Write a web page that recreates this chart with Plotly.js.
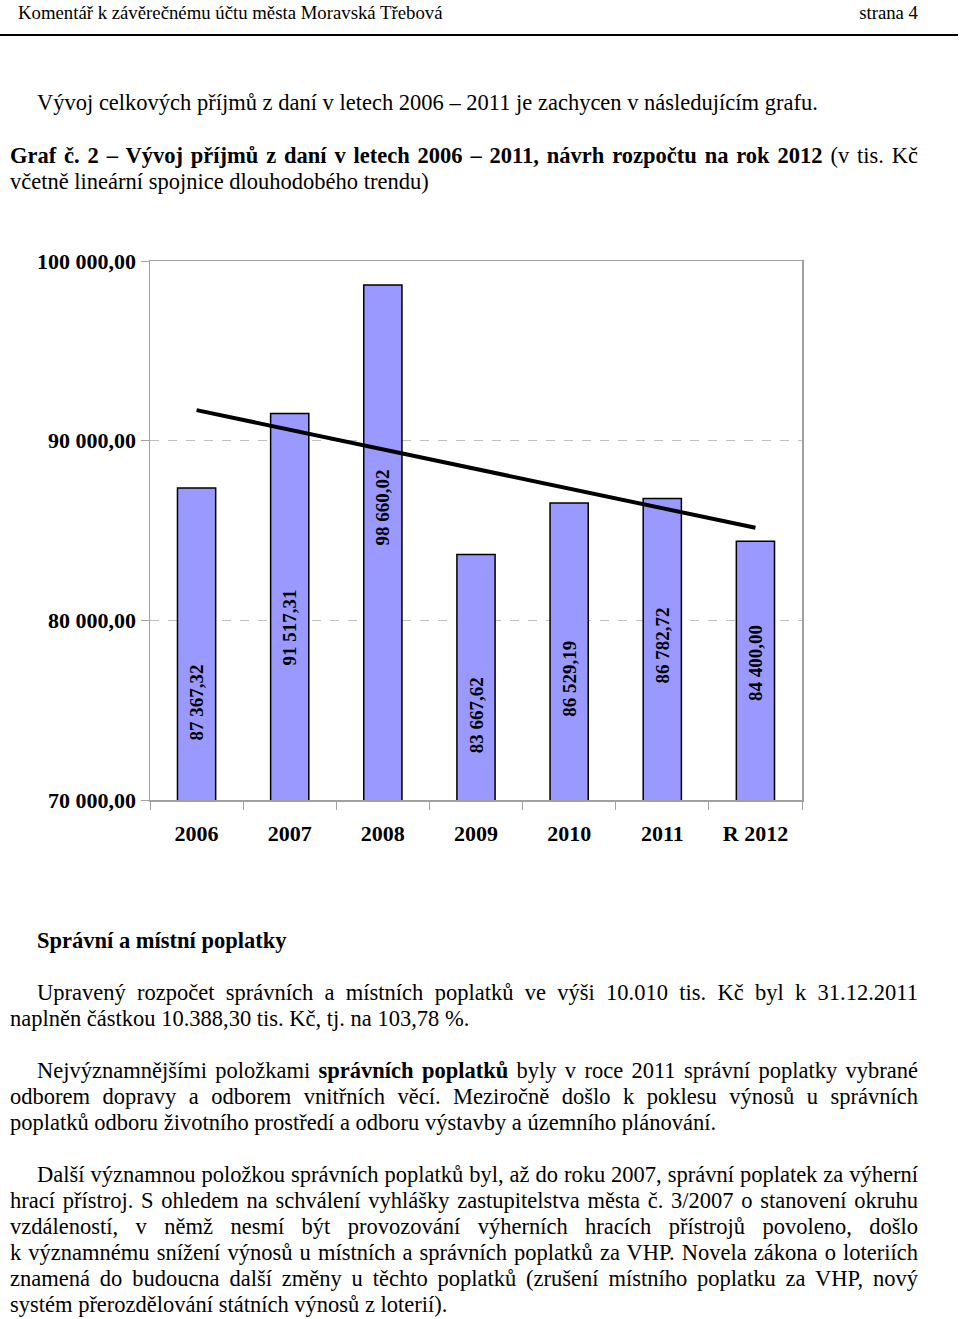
<!DOCTYPE html>
<html>
<head>
<meta charset="utf-8">
<script src="https://cdn.plot.ly/plotly-3.0.1.min.js"></script>
<style>
  body { margin: 0; background: #fff; width: 960px; height: 1319px; position: relative; overflow: hidden;
         font-family: "Liberation Serif", "Times New Roman", serif; color: #000; }
  .t { position: absolute; font-size: 22.5px; line-height: 26px; white-space: nowrap; }
  .j { position: absolute; left: 10px; width: 908px; font-size: 22.5px; line-height: 26px;
       text-align: justify; text-align-last: justify; white-space: nowrap; }
  .ind { left: 37px; width: 881px; }
  .hd { font-size: 18.75px; }
  b { font-weight: bold; }
</style>
</head>
<body>
<div class="t hd" style="left:18px; top:0px;">Komentář k závěrečnému účtu města Moravská Třebová</div>
<div class="t hd" style="right:42px; top:0px;">strana 4</div>
<div style="position:absolute; left:0; top:34px; width:958px; height:2px; background:#000;"></div>

<div class="t" style="left:37px; top:90px;">Vývoj celkových příjmů z daní v letech 2006 – 2011 je zachycen v následujícím grafu.</div>
<div class="j" style="top:143px;"><b>Graf č. 2 – Vývoj příjmů z daní v letech 2006 – 2011, návrh rozpočtu na rok 2012</b> (v tis. Kč</div>
<div class="t" style="left:10px; top:169px;">včetně lineární spojnice dlouhodobého trendu)</div>

<div id="myDiv" style="position:absolute; left:0; top:230px; width:960px; height:650px;"></div>

<div class="t" style="left:37px; top:928px;"><b>Správní a místní poplatky</b></div>
<div class="j ind" style="top:980px;">Upravený rozpočet správních a místních poplatků ve výši 10.010 tis. Kč byl k 31.12.2011</div>
<div class="t" style="left:10px; top:1006px;">naplněn částkou 10.388,30 tis. Kč, tj. na 103,78 %.</div>

<div class="j ind" style="top:1058px;">Nejvýznamnějšími položkami <b>správních poplatků</b> byly v roce 2011 správní poplatky vybrané</div>
<div class="j" style="top:1084px;">odborem dopravy a odborem vnitřních věcí. Meziročně došlo k poklesu výnosů u správních</div>
<div class="t" style="left:10px; top:1110px;">poplatků odboru životního prostředí a odboru výstavby a územního plánování.</div>

<div class="j ind" style="top:1162px;">Další významnou položkou správních poplatků byl, až do roku 2007, správní poplatek za výherní</div>
<div class="j" style="top:1188px;">hrací přístroj. S ohledem na schválení vyhlášky zastupitelstva města č. 3/2007 o stanovení okruhu</div>
<div class="j" style="top:1214px;">vzdáleností, v němž nesmí být provozování výherních hracích přístrojů povoleno, došlo</div>
<div class="j" style="top:1240px;">k významnému snížení výnosů u místních a správních poplatků za VHP. Novela zákona o loteriích</div>
<div class="j" style="top:1266px;">znamená do budoucna další změny u těchto poplatků (zrušení místního poplatku za VHP, nový</div>
<div class="t" style="left:10px; top:1292px;">systém přerozdělování státních výnosů z loterií).</div>

<script>
// hodnoty z grafu (tis. Kc)
var years = ['2006', '2007', '2008', '2009', '2010', '2011', 'R 2012'];
var income = [87367.32, 91517.31, 98660.02, 83667.62, 86529.19, 86782.72, 84400.00];
var incomeText = ['87 367,32', '91 517,31', '98 660,02', '83 667,62', '86 529,19', '86 782,72', '84 400,00'];
// konce linearni spojnice trendu
var trendX = ['2006', 'R 2012'];
var trendY = [91700, 85150];
var yTicks = [70000, 80000, 90000, 100000];
var yTickText = ['70 000,00', '80 000,00', '90 000,00', '100 000,00'];

var yRange = [70000, 100000];
// posun popisku v px (popisky v puvodnim grafu rucne posunute)
var labelShift = [-59, -21, 35, -38, -27, 4, 8];

var serif = 'Liberation Serif, Times New Roman, serif';

var bars = {
    x: years,
    y: income,
    type: 'bar',
    marker: { color: '#9999ff', line: { color: '#000000', width: 1.5 } },
    hoverinfo: 'x+y'
};

var trend = {
    x: trendX,
    y: trendY,
    mode: 'lines',
    type: 'scatter',
    line: { color: '#000000', width: 4 },
    hoverinfo: 'skip'
};

// popisky hodnot - x jako index kategorie ('2006' by se bral jako cislo)
var labels = [];
for (var i = 0; i < years.length; i++) {
    labels.push({
        x: i,
        y: (yRange[0] + income[i]) / 2,
        text: incomeText[i],
        textangle: -90,
        showarrow: false,
        yshift: labelShift[i],
        font: { family: serif, size: 19, color: '#000000', weight: 'bold' }
    });
}

var layout = {
    showlegend: false,
    margin: { l: 150, r: 158, t: 31, b: 80 },
    bargap: 0.59,
    paper_bgcolor: '#ffffff',
    plot_bgcolor: '#ffffff',
    font: { family: serif, size: 22, color: '#000000', weight: 'bold' },
    xaxis: {
        type: 'category',
        range: [-0.5, years.length - 0.5],
        autorange: false,
        showgrid: false,
        zeroline: false,
        showline: true,
        mirror: true,
        linecolor: '#a0a0a0',
        linewidth: 1.5,
        ticks: 'outside',
        tickson: 'boundaries',
        ticklen: 8,
        tickcolor: '#a0a0a0',
        tickangle: 0,
        ticklabelstandoff: 13,
        tickfont: { family: serif, size: 22, color: '#000000', weight: 'bold' }
    },
    yaxis: {
        range: yRange,
        autorange: false,
        tickvals: yTicks,
        ticktext: yTickText,
        showgrid: true,
        gridcolor: '#c0c0c0',
        griddash: 'dash',
        gridwidth: 1,
        zeroline: false,
        showline: true,
        mirror: true,
        linecolor: '#a0a0a0',
        linewidth: 1.5,
        ticks: 'outside',
        ticklen: 8,
        tickcolor: '#a0a0a0',
        tickfont: { family: serif, size: 22, color: '#000000', weight: 'bold' }
    },
    annotations: labels
};

var config = { displayModeBar: false, staticPlot: true };

Plotly.newPlot('myDiv', [bars, trend], layout, config);
</script>
</body>
</html>
